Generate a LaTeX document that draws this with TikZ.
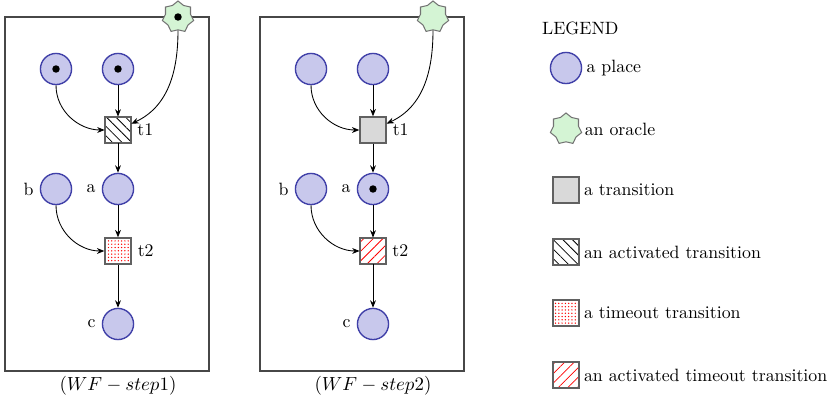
\documentclass[tikz,border=0pt]{standalone}
\usepackage{amsmath}
\usepackage{xcolor}
\usepackage{tikz}
\usetikzlibrary{arrows.meta,petri,patterns.meta,shapes.geometric}

\definecolor{placefill}{RGB}{200,200,236}
\definecolor{placeline}{RGB}{64,64,168}
\definecolor{oraclefill}{RGB}{212,244,212}

\begin{document}
\begin{tikzpicture}[>={Stealth[length=4.3pt,width=3.4pt]},x=0.578pt,y=0.578pt,
  font=\fontsize{10.3}{12.5}\selectfont,
  place/.style={circle,draw=placeline,fill=placefill,line width=0.8pt,minimum size=18pt,inner sep=0pt},
  trans/.style={rectangle,draw=black!62,line width=0.8pt,fill=black!15,minimum size=15pt,inner sep=0pt},
  activated/.style={trans,fill=white,pattern={Lines[angle=-45,distance=3.9pt,line width=0.45pt]}},
  timeout/.style={trans,fill=white,pattern={Dots[distance=1.9pt,radius=0.42pt]},pattern color=red},
  acttimeout/.style={trans,fill=white,pattern={Lines[angle=45,distance=3.9pt,line width=0.45pt]},pattern color=red},
  oracle/.style={star,star points=7,star point ratio=1.25,draw=black!55,fill=oraclefill,
    line width=0.6pt,minimum size=18.5pt,inner sep=0pt},
  frame/.style={draw=black!72,line width=0.65pt},
  caption/.style={font=\fontsize{11.1}{13}\selectfont},
  arc/.style={->,line width=0.5pt}]
  \useasboundingbox (0,0) rectangle (833,402);
  % first step: t1 is activated
  \draw[frame] (5,385) rectangle (209,31);
  \node[place,tokens=1] (pA) at (56,333) {};
  \node[place,tokens=1] (pB) at (118,333) {};
  \node[activated,label=right:t1] (tA) at (118,272) {};
  \node[place,label=left:b] (bA) at (56,213) {};
  \node[place,label=left:a] (aA) at (118,213) {};
  \node[timeout,label=right:t2] (uA) at (118,151) {};
  \node[place,label=left:c] (cA) at (118,78) {};
  \node[oracle,tokens=1] (oA) at (178,385) {};
  \draw[arc] (pA) to[out=-90,in=180] (tA);
  \draw[arc] (pB) -- (tA);
  \draw[arc] (oA) to[out=-90,in=25] (tA);
  \draw[arc] (tA) -- (aA);
  \draw[arc] (aA) -- (uA);
  \draw[arc] (bA) to[out=-90,in=180] (uA);
  \draw[arc] (uA) -- (cA);
  \node[caption] (capA) at (118,16) {$(WF-step1)$};
  % second step: token in a, t2 is an activated timeout
  \draw[frame] (260,385) rectangle (464,31);
  \node[place] (pC) at (311,333) {};
  \node[place] (pD) at (373,333) {};
  \node[trans,label=right:t1] (tB) at (373,272) {};
  \node[place,label=left:b] (bB) at (311,213) {};
  \node[place,tokens=1,label=left:a] (aB) at (373,213) {};
  \node[acttimeout,label=right:t2] (uB) at (373,151) {};
  \node[place,label=left:c] (cB) at (373,78) {};
  \node[oracle] (oB) at (433,385) {};
  \draw[arc] (pC) to[out=-90,in=180] (tB);
  \draw[arc] (pD) -- (tB);
  \draw[arc] (oB) to[out=-90,in=25] (tB);
  \draw[arc] (tB) -- (aB);
  \draw[arc] (aB) -- (uB);
  \draw[arc] (bB) to[out=-90,in=180] (uB);
  \draw[arc] (uB) -- (cB);
  \node[caption] (capB) at (373,16) {$(WF-step2)$};
  % legend
  \node[anchor=west] (leg) at (536,374) {LEGEND};
  \node[place,label={[label distance=-1pt]right:a place}] (lp) at (566,334) {};
  \node[oracle,label={[label distance=-1pt]right:an oracle}] (lo) at (566,273) {};
  \node[trans,label={[label distance=-1pt]right:a transition}] (lt) at (566,212) {};
  \node[activated,label={[label distance=-1pt]right:an activated transition}] (la) at (566,150) {};
  \node[timeout,label={[label distance=-1pt]right:a timeout transition}] (lu) at (566,89) {};
  \node[acttimeout,label={[label distance=-1pt]right:an activated timeout transition}] (lv) at (566,27) {};
\end{tikzpicture}
\end{document}
